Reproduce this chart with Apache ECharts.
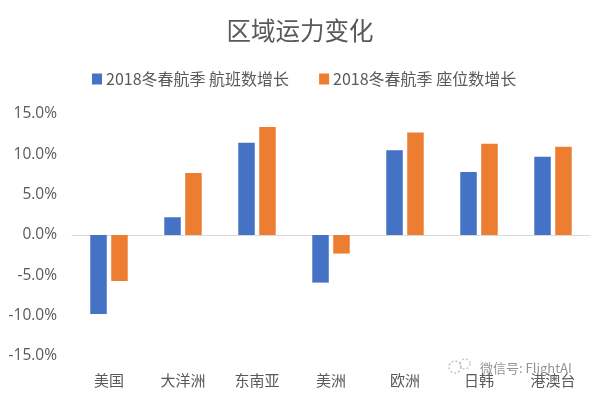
<!DOCTYPE html>
<html><head><meta charset="utf-8">
<style>html,body{margin:0;padding:0;background:#fff}#c{width:600px;height:396px}</style>
<script src="https://cdn.jsdelivr.net/npm/echarts@6/dist/echarts.min.js"></script>
</head><body><div id="c"></div>
<script>
const titleText = '区域运力变化';
const categories = ['美国','大洋洲','东南亚','美洲','欧洲','日韩','港澳台'];
const flightName = '2018冬春航季 航班数增长';
const seatName = '2018冬春航季 座位数增长';
const flightGrowth = [-9.8, 2.2, 11.45, -5.9, 10.5, 7.8, 9.7];
const seatGrowth = [-5.7, 7.7, 13.4, -2.3, 12.7, 11.3, 10.95];
const watermark = '微信号: FlightAI';
const font = '"Noto Sans CJK SC","Noto Sans",sans-serif';
const chart = echarts.init(document.getElementById('c'), null, {renderer:'canvas'});
chart.setOption({
  animation:false,
  backgroundColor:'#fff',
  title:{text:titleText,left:'center',top:18,padding:0,
    textStyle:{fontFamily:font,fontSize:24.5,fontWeight:'normal',color:'#595959'}},
  legend:{left:92,top:71,padding:0,itemWidth:10,itemHeight:11,itemGap:30,icon:'rect',
    textStyle:{fontFamily:font,fontSize:16,color:'#595959',padding:[0,0,0,-1]},
    data:[flightName,seatName]},
  grid:{left:72,right:10,top:114,bottom:40},
  xAxis:[
    {type:'category',data:categories,position:'bottom',
      axisLine:{onZero:true,lineStyle:{color:'#d9d9d9',width:1}},
      axisTick:{show:false},axisLabel:{show:false}},
    {type:'category',data:categories,position:'bottom',
      axisLine:{show:false,onZero:false},axisTick:{show:false},
      axisLabel:{interval:0,margin:17,fontFamily:font,fontSize:15,color:'#595959'}}
  ],
  yAxis:{type:'value',min:-15,max:15,interval:5,
    axisLine:{show:false},axisTick:{show:false},splitLine:{show:false},
    axisLabel:{formatter:v=>v.toFixed(1)+'%',margin:15,
      fontFamily:'"Open Sans","Noto Sans",sans-serif',fontSize:15.5,color:'#595959'}},
  series:[
    {name:flightName,type:'bar',xAxisIndex:0,data:flightGrowth,barWidth:16.5,barGap:'27%',itemStyle:{color:'#4472C4'}},
    {name:seatName,type:'bar',xAxisIndex:0,data:seatGrowth,barWidth:16.5,barGap:'27%',itemStyle:{color:'#ED7D31'}}
  ],
  graphic:[{type:'text',x:480,y:368,z:10,
      style:{text:watermark,fontFamily:font,fontSize:13,fill:'rgba(120,120,120,0.8)',align:'left',verticalAlign:'middle'}},
      {type:'circle',shape:{cx:455,cy:367,r:6},z:10,style:{fill:'none',stroke:'rgba(170,170,170,0.7)',lineWidth:1.5,lineDash:[2,2]}},
      {type:'circle',shape:{cx:465,cy:364,r:5},z:10,style:{fill:'none',stroke:'rgba(170,170,170,0.6)',lineWidth:1.5,lineDash:[2,2]}}]
});
</script></body></html>
